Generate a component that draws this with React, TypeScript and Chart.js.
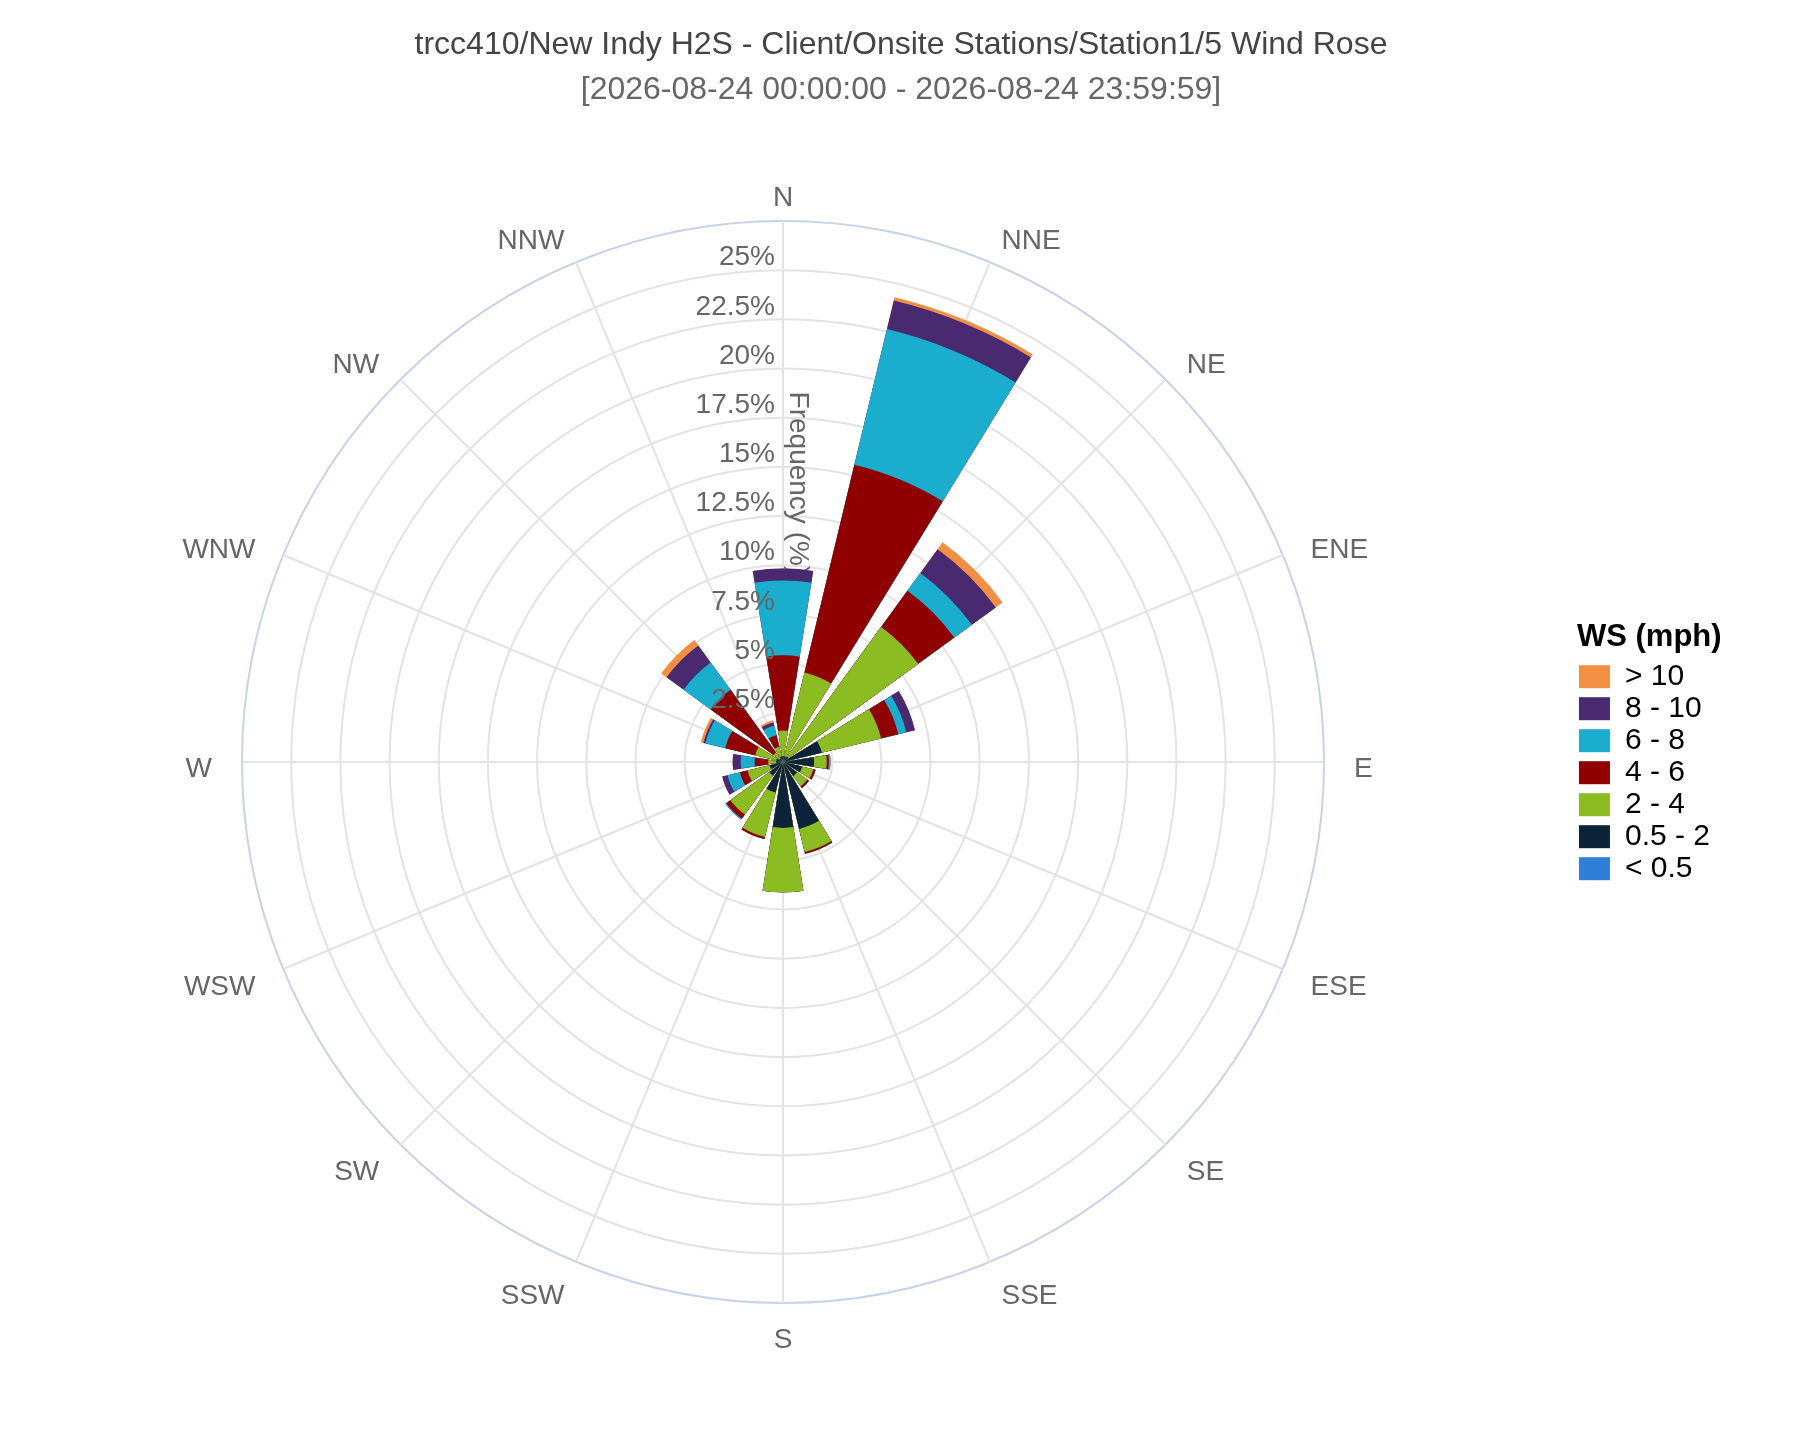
import React, { useEffect, useRef } from "react";
import { Chart, PolarAreaController, ArcElement, RadialLinearScale, Legend } from "chart.js";
import type { Plugin } from "chart.js";

Chart.register(PolarAreaController, ArcElement, RadialLinearScale, Legend);

const FONT = "'Liberation Sans', Arial, sans-serif";
const TITLE = "trcc410/New Indy H2S - Client/Onsite Stations/Station1/5 Wind Rose";
const SUBTITLE = "[2026-08-24 00:00:00 - 2026-08-24 23:59:59]";
const AXIS_TITLE = "Frequency (%)";

const directions = ["N", "NNE", "NE", "ENE", "E", "ESE", "SE", "SSE", "S", "SSW", "SW", "WSW", "W", "WNW", "NW", "NNW"];
const speedBins = ["< 0.5", "0.5 - 2", "2 - 4", "4 - 6", "6 - 8", "8 - 10", "> 10"];
const binColors = ["#2f7ed8", "#0d233a", "#8bbc21", "#910000", "#1aadce", "#492970", "#f28f43"];

// frequency (%) per direction, one list per wind speed bin (mph)
const wsBelow05 = [0.1, 0.1, 0.1, 0.1, 0.1, 0.1, 0.1, 0.1, 0.1, 0.1, 0.1, 0.1, 0.1, 0.1, 0.1, 0.1];
const ws05to2 = [0.2, 0.2, 0.25, 1.93, 1.48, 0.9, 0.78, 3.4, 3.25, 1.5, 0.76, 0.6, 0.26, 0.25, 0.1, 0.2];
const ws2to4 = [1.3, 4.38, 8.14, 3.1, 0.64, 0.58, 0.64, 1.21, 3.27, 2.32, 2.44, 1.15, 0.39, 1.1, 0.4, 0.5];
const ws4to6 = [3.82, 10.86, 2.27, 0.9, 0.11, 0.12, 0.11, 0.09, 0, 0.11, 0.26, 0.4, 0.69, 1.57, 3.94, 0.6];
const ws6to8 = [3.8, 7.09, 1.11, 0.42, 0.08, 0, 0, 0, 0, 0, 0.06, 0.65, 0.71, 1.04, 1.71, 0.5];
const ws8to10 = [0.61, 1.49, 1.5, 0.45, 0, 0, 0, 0, 0, 0, 0, 0.28, 0.41, 0.1, 1.07, 0.17];
const wsAbove10 = [0, 0.18, 0.43, 0, 0, 0, 0, 0, 0, 0, 0, 0, 0, 0.14, 0.34, 0.11];

const radialTicks = [2.5, 5, 7.5, 10, 12.5, 15, 17.5, 20, 22.5, 25];
const RADIAL_MAX = 27.5;

const BAR_DEG = 18;
const GAP_DEG = 4.5;
const GRID = "#e3e3e3";
const OUTER = "#c8d3ea";
const LABEL = "#666";
// chart.js clamps negative layout padding, so the canvas itself sits a bit left
const CANVAS_SHIFT = 10;

const binValues = [wsBelow05, ws05to2, ws2to4, ws4to6, ws6to8, ws8to10, wsAbove10];

// stacked look: each bin is drawn as its cumulative total, smaller totals on top
function buildDatasets() {
  return speedBins.map((label, b) => {
    const data: number[] = [];
    directions.forEach((_, k) => {
      let total = 0;
      for (let j = 0; j <= b; j++) total += binValues[j][k];
      data.push(total, 0);
    });
    return {
      label,
      data,
      backgroundColor: binColors[b],
      borderWidth: 0,
      angle: (ctx: { dataIndex: number }) => (ctx.dataIndex % 2 === 0 ? BAR_DEG : GAP_DEG),
    };
  });
}

const roseText: Plugin<"polarArea"> = {
  id: "roseText",
  beforeDatasetsDraw(chart) {
    const s = chart.scales.r2 as RadialLinearScale;
    const ctx = chart.ctx;
    ctx.save();
    ctx.translate(s.xCenter + 15, s.yCenter - s.drawingArea * 0.515);
    ctx.rotate(Math.PI / 2);
    ctx.font = `28px ${FONT}`;
    ctx.fillStyle = LABEL;
    ctx.textAlign = "center";
    ctx.textBaseline = "middle";
    ctx.fillText(AXIS_TITLE, 0, 0);
    ctx.restore();
  },
  afterDatasetsDraw(chart) {
    const s = chart.scales.r2 as RadialLinearScale;
    const ctx = chart.ctx;
    ctx.save();
    ctx.font = `28px ${FONT}`;
    ctx.fillStyle = LABEL;
    ctx.textAlign = "right";
    ctx.textBaseline = "middle";
    radialTicks.forEach((v) => {
      const d = s.getDistanceFromCenterForValue(v);
      ctx.fillText(`${v}%`, s.xCenter - 8, s.yCenter - d - 12.5);
    });
    ctx.restore();
  },
  afterDraw(chart) {
    const s = chart.scales.r2 as RadialLinearScale;
    const ctx = chart.ctx;
    ctx.save();
    ctx.font = `28px ${FONT}`;
    ctx.fillStyle = LABEL;
    ctx.textBaseline = "middle";
    directions.forEach((name, i) => {
      const p = s.getPointPosition(i, s.drawingArea + 30);
      const sin = Math.sin(s.getIndexAngle(i));
      ctx.textAlign = Math.abs(sin) < 0.01 ? "center" : sin > 0 ? "left" : "right";
      ctx.fillText(name, p.x, p.y + 7);
    });

    ctx.textAlign = "center";
    ctx.font = `32px ${FONT}`;
    ctx.fillStyle = "#444";
    ctx.fillText(TITLE, 901 + CANVAS_SHIFT, 45);
    ctx.fillStyle = "#666";
    ctx.fillText(SUBTITLE, 901 + CANVAS_SHIFT, 90);
    ctx.restore();
  },
};

export default function App(): React.ReactElement {
  const canvasRef = useRef<HTMLCanvasElement | null>(null);

  useEffect(() => {
    if (!canvasRef.current) return;
    const chart = new Chart(canvasRef.current, {
      type: "polarArea",
      data: { labels: directions, datasets: buildDatasets() as never[] },
      options: {
        responsive: true,
        maintainAspectRatio: false,
        animation: false,
        events: [],
        font: { family: FONT },
        layout: { padding: { top: 221, bottom: 137, left: 0, right: 80 } },
        scales: {
          r: {
            type: "radialLinear",
            display: false,
            min: 0,
            max: RADIAL_MAX,
            startAngle: -BAR_DEG / 2,
          },
          r2: {
            type: "radialLinear",
            axis: "r",
            min: 0,
            max: RADIAL_MAX,
            startAngle: 0,
            ticks: { display: false, stepSize: 2.5 },
            grid: {
              circular: true,
              lineWidth: 2,
              color: (c: { tick?: { value: number } }) => (c.tick && c.tick.value >= RADIAL_MAX ? OUTER : GRID),
            },
            angleLines: { display: true, color: GRID, lineWidth: 2 },
            pointLabels: { display: false },
          },
        },
        plugins: {
          tooltip: { enabled: false },
          legend: {
            display: true,
            position: "right",
            align: "start",
            fullSize: false,
            onClick: () => {},
            title: {
              display: true,
              text: "WS (mph)",
              color: "#000",
              position: "start",
              font: { size: 31, weight: "bold", family: FONT },
              padding: { top: 400.5, bottom: 1 },
            },
            labels: {
              boxWidth: 31,
              boxHeight: 23,
              padding: 2,
              color: "#444",
              font: { size: 30, family: FONT },
              generateLabels: () =>
                speedBins
                  .map((text, b) => ({
                    text,
                    fillStyle: binColors[b],
                    strokeStyle: binColors[b],
                    lineWidth: 0,
                    hidden: false,
                    datasetIndex: b,
                  }))
                  .reverse(),
            },
          },
        },
      } as never,
      plugins: [roseText],
    });
    return () => chart.destroy();
  }, []);

  return (
    <div
      style={{
        position: "absolute",
        left: -CANVAS_SHIFT,
        top: 0,
        width: 1800 + CANVAS_SHIFT,
        height: 1440,
        background: "#fff",
      }}
    >
      <canvas ref={canvasRef} />
    </div>
  );
}
